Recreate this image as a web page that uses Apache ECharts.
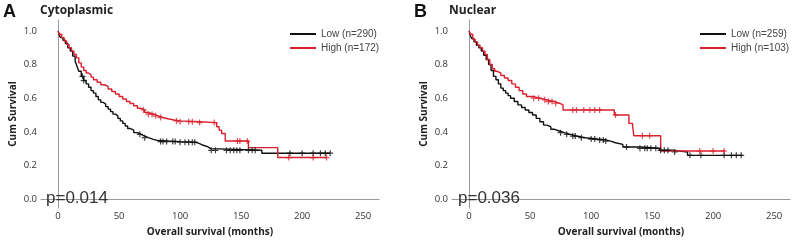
<!DOCTYPE html>
<html>
<head>
<meta charset="utf-8">
<script src="https://cdn.jsdelivr.net/npm/echarts@6/dist/echarts.min.js"></script>
<style>
  html, body { margin: 0; padding: 0; background: #fff; }
  #main { width: 794px; height: 242px; }
</style>
</head>
<body>
<div id="main"></div>
<script>
// Kaplan-Meier curves, [months, cum survival] at each step
var cytoLow = [[0,1],[1,0.975],[2,0.96],[4,0.945],[6,0.925],[8,0.9],[10,0.88],[12,0.85],[14,0.82],[15,0.8],[16,0.78],[17,0.76],[19,0.73],[21,0.705],[23,0.685],[25,0.665],[27,0.645],[29,0.63],[31,0.61],[33,0.59],[35,0.575],[37,0.565],[39,0.55],[41,0.535],[43,0.52],[45,0.505],[47,0.495],[49,0.48],[51,0.465],[53,0.45],[55,0.435],[57,0.42],[59,0.41],[62,0.395],[65,0.385],[68,0.375],[71,0.365],[74,0.355],[78,0.348],[82,0.342],[100,0.338],[113,0.33],[116,0.32],[119,0.31],[123,0.3],[125,0.29],[167,0.273],[223,0.273]];
var cytoHigh = [[0,1],[1,0.98],[3,0.96],[5,0.94],[7,0.92],[9,0.9],[11,0.88],[13,0.86],[15,0.84],[17,0.81],[19,0.785],[21,0.765],[23,0.75],[25,0.74],[27,0.725],[29,0.71],[32,0.695],[35,0.68],[38,0.67],[41,0.655],[44,0.64],[47,0.625],[50,0.61],[53,0.595],[56,0.58],[59,0.568],[62,0.555],[65,0.54],[68,0.53],[71,0.515],[74,0.505],[78,0.495],[82,0.485],[86,0.478],[90,0.47],[95,0.465],[100,0.46],[116,0.455],[130,0.43],[132,0.41],[134,0.39],[137,0.345],[156,0.306],[180,0.247],[220,0.247]];
var nucLow = [[0,1],[1,0.975],[2,0.955],[4,0.935],[6,0.915],[8,0.9],[10,0.88],[12,0.855],[14,0.83],[16,0.8],[18,0.765],[20,0.73],[22,0.71],[24,0.685],[26,0.66],[28,0.645],[30,0.63],[32,0.615],[34,0.6],[37,0.58],[40,0.56],[43,0.545],[46,0.53],[49,0.515],[52,0.5],[55,0.48],[58,0.46],[61,0.44],[64,0.43],[67,0.415],[70,0.405],[74,0.395],[78,0.385],[83,0.375],[88,0.365],[95,0.357],[105,0.352],[112,0.345],[116,0.335],[120,0.325],[126,0.31],[140,0.302],[156,0.29],[168,0.28],[179,0.26],[224,0.26]];
var nucHigh = [[0,1],[1,0.98],[3,0.95],[5,0.935],[7,0.915],[9,0.9],[11,0.88],[13,0.86],[15,0.83],[17,0.8],[19,0.775],[21,0.76],[23,0.75],[26,0.735],[29,0.72],[32,0.705],[35,0.685],[38,0.665],[41,0.645],[44,0.625],[47,0.61],[52,0.6],[58,0.59],[64,0.58],[70,0.57],[74,0.56],[77,0.53],[119,0.5],[131,0.45],[134,0.436],[135,0.377],[157,0.286],[210,0.286]];

// censored times (months)
var cytoLowCens = [20,21,67,71,84,86,89,94,96,100,104,107,110,112,125.5,129,138,141,144,146.5,149,156,159,161.5,190,200,209,215,219,223];
var cytoHighCens = [70,74,77,80,84,97,100,107,110,116,128,147,149,155,189,209,220];
var nucLowCens = [75,80,85,87,92,100,103,107,110,112,129,140,144,146,149,153,157,160,163,168.5,181,190,209,215,219,223];
var nucHighCens = [53,57,62,65,68,71,85,88,94,99,103,107,120,142,148,189,200,209];

var xTicks = [0, 50, 100, 150, 200, 250];
var yTicks = [0, 0.2, 0.4, 0.6, 0.8, 1.0];

var cytoNames = ['Low (n=290)', 'High (n=172)'];
var nucNames = ['Low (n=259)', 'High (n=103)'];
var pValues = ['p=0.014', 'p=0.036'];

var black = '#111111', red = '#d9212e';
var plus = 'path://M4,0H6V4H10V6H6V10H4V6H0V4H4Z';

// survival value of a step curve at time t
function survAt(curve, t) {
    var s = curve[0][1];
    for (var i = 0; i < curve.length; i++) {
        if (curve[i][0] <= t) s = curve[i][1];
    }
    return s;
}
function censPoints(curve, times) {
    return times.map(function (t) { return [t, survAt(curve, t)]; });
}

function xAxisFor(idx) {
    return {
        gridIndex: idx, type: 'value', min: -14, max: 263,
        name: 'Overall survival (months)', nameLocation: 'middle', nameGap: 19,
        nameTextStyle: { fontFamily: 'Open Sans', fontWeight: 'bold', fontSize: 10, color: '#222' },
        axisLine: { show: true, lineStyle: { color: '#999', width: 1 } },
        axisTick: { show: false },
        splitLine: { show: false },
        axisLabel: { customValues: xTicks, fontFamily: 'Open Sans', fontSize: 9.5, color: '#333', margin: 3 }
    };
}
function yAxisFor(idx) {
    return {
        gridIndex: idx, type: 'value', min: -0.053, max: 1.065,
        name: 'Cum Survival', nameLocation: 'middle', nameGap: 23,
        nameTextStyle: { fontFamily: 'Open Sans', fontWeight: 'bold', fontSize: 10, color: '#222' },
        axisLine: { show: true, lineStyle: { color: '#999', width: 1 } },
        axisTick: { show: false },
        splitLine: { show: false },
        axisLabel: {
            customValues: yTicks, fontFamily: 'Open Sans', fontSize: 9.5, color: '#333', margin: 4,
            formatter: function (v) { return v.toFixed(1); }
        }
    };
}
function lineSeries(name, idx, data, color) {
    return {
        name: name, type: 'line', xAxisIndex: idx, yAxisIndex: idx,
        data: data, step: 'end', showSymbol: false, symbol: 'none',
        lineStyle: { color: color, width: 1.4 }, itemStyle: { color: color },
        animation: false, z: 2
    };
}
function censSeries(name, idx, data, color) {
    return {
        name: name, type: 'scatter', xAxisIndex: idx, yAxisIndex: idx,
        data: data, symbol: plus, symbolSize: 6,
        itemStyle: { color: color }, animation: false, z: 3
    };
}
function legendFor(names, left) {
    return {
        data: names, left: left, top: 28, orient: 'vertical', padding: 0,
        icon: 'rect', itemWidth: 26, itemHeight: 2, itemGap: 2,
        textStyle: { fontFamily: 'Liberation Sans', fontSize: 10, color: '#444', lineHeight: 12 },
        selectedMode: false
    };
}
function titleAt(text, left, top, size, weight, family, color) {
    return {
        text: text, left: left, top: top, padding: 0,
        textStyle: { fontFamily: family, fontWeight: weight, fontSize: size, color: color }
    };
}

var chart = echarts.init(document.getElementById('main'));
chart.setOption({
    backgroundColor: '#fff',
    title: [
        titleAt('A', 3, 3, 18, 'bold', 'Liberation Sans', '#111'),
        titleAt('Cytoplasmic', 40, 5, 12, 'bold', 'Open Sans', '#222'),
        titleAt('B', 414, 3, 18, 'bold', 'Liberation Sans', '#111'),
        titleAt('Nuclear', 449, 5, 12, 'bold', 'Open Sans', '#222'),
        titleAt(pValues[0], 46, 190, 17, 'normal', 'Liberation Sans', '#333'),
        titleAt(pValues[1], 458, 190, 17, 'normal', 'Liberation Sans', '#333')
    ],
    legend: [legendFor(cytoNames, 290), legendFor(nucNames, 700)],
    grid: [
        { left: 41, top: 20, width: 338, height: 189 },
        { left: 452, top: 20, width: 338, height: 189 }
    ],
    xAxis: [xAxisFor(0), xAxisFor(1)],
    yAxis: [yAxisFor(0), yAxisFor(1)],
    series: [
        lineSeries(cytoNames[0], 0, cytoLow, black),
        lineSeries(cytoNames[1], 0, cytoHigh, red),
        censSeries('cytoLowCens', 0, censPoints(cytoLow, cytoLowCens), black),
        censSeries('cytoHighCens', 0, censPoints(cytoHigh, cytoHighCens), red),
        lineSeries(nucNames[0], 1, nucLow, black),
        lineSeries(nucNames[1], 1, nucHigh, red),
        censSeries('nucLowCens', 1, censPoints(nucLow, nucLowCens), black),
        censSeries('nucHighCens', 1, censPoints(nucHigh, nucHighCens), red)
    ]
});
</script>
</body>
</html>
